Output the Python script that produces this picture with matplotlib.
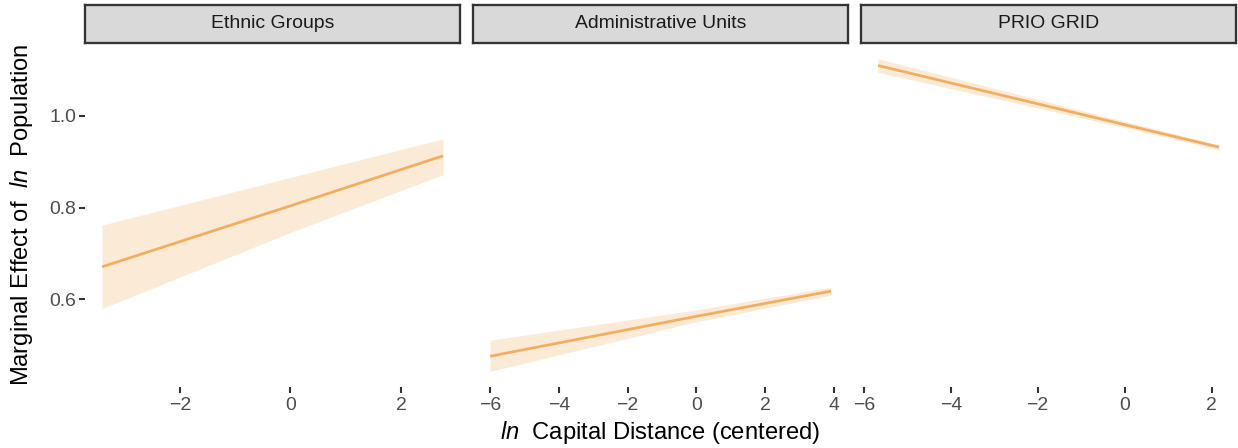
import numpy as np
import matplotlib
matplotlib.use("Agg")
import matplotlib.pyplot as plt

plt.rcParams["font.family"] = ["Liberation Sans", "DejaVu Sans"]
plt.rcParams["mathtext.fontset"] = "custom"
plt.rcParams["mathtext.rm"] = "Liberation Sans"
plt.rcParams["mathtext.it"] = "Liberation Sans:italic"

# Marginal effect of ln population over centered ln capital distance
panels = ["Ethnic Groups", "Administrative Units", "PRIO GRID"]

eth_x = [-3.41, 0.0, 2.76]
eth_fit = [0.671, 0.804, 0.913]
eth_lo = [0.580, 0.746, 0.872]
eth_hi = [0.762, 0.866, 0.950]

adm_x = [-6.0, 0.0, 3.92]
adm_fit = [0.476, 0.563, 0.618]
adm_lo = [0.443, 0.551, 0.609]
adm_hi = [0.511, 0.577, 0.627]

prio_x = [-5.67, 0.0, 2.17]
prio_fit = [1.110, 0.981, 0.932]
prio_lo = [1.095, 0.975, 0.926]
prio_hi = [1.125, 0.988, 0.937]

x_ticks = [[-2, 0, 2], [-6, -4, -2, 0, 2, 4], [-6, -4, -2, 0, 2]]
y_ticks = [0.6, 0.8, 1.0]

series = [
    (eth_x, eth_fit, eth_lo, eth_hi),
    (adm_x, adm_fit, adm_lo, adm_hi),
    (prio_x, prio_fit, prio_lo, prio_hi),
]

LINE = "#F2AE5E"
TICK_FS = 9.3
TITLE_FS = 11.4
W, H = 1238, 448
DPI = 150
fig = plt.figure(figsize=(W / DPI, H / DPI), dpi=DPI)

lefts = [85, 473, 861]
pw = 375
p_top, p_bot = 43, 387
s_top = 5

all_y = np.concatenate([np.r_[lo, hi] for _, _, lo, hi in series])
ypad = 0.05 * (all_y.max() - all_y.min())
ylim = (all_y.min() - ypad, all_y.max() + ypad)

axes = []
for i, (name, (x, fit, lo, hi)) in enumerate(zip(panels, series)):
    l = lefts[i]
    ax = fig.add_axes([l / W, 1 - p_bot / H, pw / W, (p_bot - p_top) / H])
    ax.fill_between(x, lo, hi, color=LINE, alpha=0.25, linewidth=0)
    ax.plot(x, fit, color=LINE, linewidth=1.3, solid_capstyle="butt")
    xr = max(x) - min(x)
    ax.set_xlim(min(x) - 0.05 * xr, max(x) + 0.05 * xr)
    ax.set_ylim(*ylim)
    ax.set_xticks(x_ticks[i])
    ax.set_xticklabels([f"{t}".replace("-", "\u2212") for t in x_ticks[i]])
    for s in ax.spines.values():
        s.set_visible(False)
    ax.tick_params(axis="x", length=2.75, width=1.0, color="#333333",
                   labelcolor="#4D4D4D", labelsize=TICK_FS, pad=2.0)
    if i == 0:
        ax.set_yticks(y_ticks)
        ax.set_yticklabels([f"{t:.1f}" for t in y_ticks])
        ax.tick_params(axis="y", length=2.75, width=1.0, color="#333333",
                       labelcolor="#4D4D4D", labelsize=TICK_FS, pad=1.6)
    else:
        ax.set_yticks([])
    axes.append(ax)

    sax = fig.add_axes([l / W, 1 - p_top / H, pw / W, (p_top - s_top) / H])
    sax.set_facecolor("#D9D9D9")
    sax.set_xticks([])
    sax.set_yticks([])
    for s in sax.spines.values():
        s.set_color("#333333")
        s.set_linewidth(1.1)
    sax.text(0.5, 0.5, name, ha="center", va="center", fontsize=TICK_FS,
             color="#1A1A1A", transform=sax.transAxes)

fig.text(22 / W, 1 - ((p_top + p_bot) / 2) / H,
         r"Marginal Effect of  $\mathit{ln}$  Population",
         rotation=90, ha="center", va="center", fontsize=TITLE_FS, color="black")
fig.text(((lefts[0] + lefts[2] + pw) / 2) / W, 1 - 432 / H,
         r"$\mathit{ln}$  Capital Distance (centered)",
         ha="center", va="center", fontsize=TITLE_FS, color="black")

fig.savefig("out.png", dpi=DPI)
